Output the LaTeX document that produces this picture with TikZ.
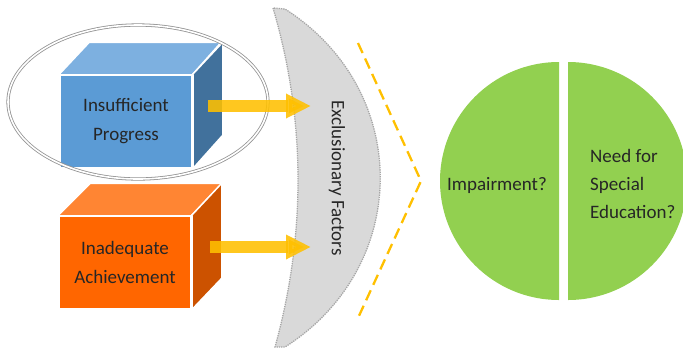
\documentclass[tikz,border=0pt]{standalone}
\usepackage{fontspec}
\setmainfont{Carlito}
\usetikzlibrary{arrows.meta}
\definecolor{bluefront}{HTML}{5B9BD5}
\definecolor{bluetop}{HTML}{7DB0E0}
\definecolor{blueside}{HTML}{41719C}
\definecolor{orfront}{HTML}{FF6600}
\definecolor{ortop}{HTML}{FF8533}
\definecolor{orside}{HTML}{CC5200}
\definecolor{arrowyellow}{HTML}{FFC000}
\definecolor{crescentgray}{HTML}{D9D9D9}
\definecolor{greenpie}{HTML}{92D050}
\definecolor{textdark}{HTML}{262626}
\tikzset{
  face/.style={draw=white, line width=1.5pt, line join=round},
  frontbox/.style={face, minimum width=132pt, minimum height=93pt, inner sep=0pt,
    align=center, text=textdark, font=\fontsize{19}{29}\selectfont},
  fatarrow/.style={draw=arrowyellow, line width=12pt, opacity=0.88,
    -{Triangle[length=25pt,width=23pt]}},
  lbl/.style={text=textdark, font=\fontsize{19}{28}\selectfont, inner sep=0pt},
}
\begin{document}
\begin{tikzpicture}[x=1pt,y=-1pt]
\useasboundingbox (0,0) rectangle (683,360);
\fill[white] (0,0) rectangle (683,360);

% blue cube
\node[frontbox, fill=bluefront] (ip) at (126,121.5) {Insufficient\\Progress};
\fill[bluetop] (ip.north west) -- ++(30,-32) -- ++(132,0) -- (ip.north east) -- cycle;
\draw[face] (ip.north west) -- ++(30,-32) -- ++(132,0) -- (ip.north east);
\fill[blueside] (ip.north east) -- ++(30,-32) -- ++(0,93) -- (ip.south east) -- cycle;
\draw[face] (ip.north east) -- ++(30,-32) -- ++(0,93) -- (ip.south east);
\draw[face] (ip.south west) rectangle (ip.north east);

% orange cube
\node[frontbox, fill=orfront] (ia) at (125,262.5) {Inadequate\\Achievement};
\fill[ortop] (ia.north west) -- ++(32,-32) -- ++(132,0) -- (ia.north east) -- cycle;
\draw[face] (ia.north west) -- ++(32,-32) -- ++(132,0) -- (ia.north east);
\fill[orside] (ia.north east) -- ++(30,-32) -- ++(0,95) -- (ia.south east) -- cycle;
\draw[face] (ia.north east) -- ++(30,-32) -- ++(0,95) -- (ia.south east);
\draw[face] (ia.south west) rectangle (ia.north east);

% double ellipse around blue cube
\draw[draw=gray!85, double=white, double distance=1.6pt, line width=0.8pt]
  (138,102) ellipse [x radius=130, y radius=77];

% crescent
\fill[crescentgray] (273,8) .. controls (306,120) and (306,235) .. (275,347)
  -- (285,347) .. controls (412,266) and (412,90) .. (285,9) -- cycle;
\draw[gray!70, line width=1.3pt, densely dotted] (273,8) .. controls (306,120) and (306,235) .. (275,347)
  -- (285,347) .. controls (412,266) and (412,90) .. (285,9) -- cycle;
\node[lbl, rotate=-90] (ef) at (337,178) {Exclusionary Factors};

% arrows
\coordinate (a1s) at (208,106);
\coordinate (a1e) at (311,106);
\coordinate (a2s) at (210,247);
\coordinate (a2e) at (311,247);
\draw[fatarrow] (a1s) -- (a1e);
\draw[fatarrow] (a2s) -- (a2e);

% dashed chevron
\coordinate (c1) at (358,43);
\coordinate (c2) at (421,181);
\coordinate (c3) at (358,318);
\draw[arrowyellow, line width=2.3pt, dash pattern=on 11pt off 6pt] (c1) -- (c2) -- (c3);

% green split circle
\fill[greenpie] (559,62) arc[start angle=-90, end angle=-270, radius=119] -- cycle;
\fill[greenpie] (568,62) arc[start angle=-90, end angle=90, radius=119] -- cycle;
\node[lbl] (imp) at (497,185) {Impairment?};
\node[lbl, anchor=west, align=left] (nse) at (590,184) {Need for\\Special\\Education?};
\end{tikzpicture}
\end{document}
